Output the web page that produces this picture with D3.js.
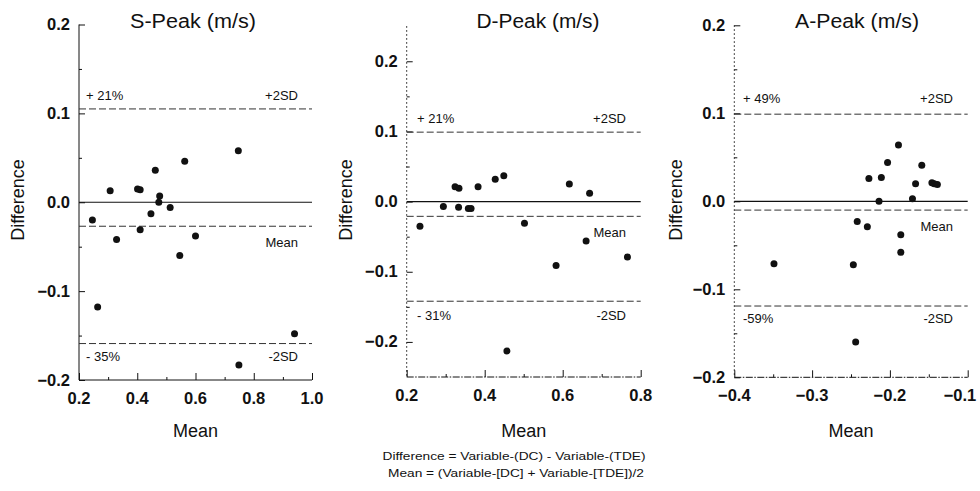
<!DOCTYPE html>
<html>
<head>
<meta charset="utf-8">
<script src="https://cdn.jsdelivr.net/npm/d3@7"></script>
<style>
  html, body { margin: 0; padding: 0; background: #fff; }
  svg { display: block; font-family: "Liberation Sans", Arial, Helvetica, sans-serif; }
</style>
</head>
<body>
<svg id="chart" width="980" height="491"></svg>
<script>
// ---------------- DATA ----------------
const panelTitles = ["S-Peak (m/s)", "D-Peak (m/s)", "A-Peak (m/s)"];

// S-Peak: mean (x) and difference (y)
const sPeakMean = [0.747, 0.563, 0.462, 0.401, 0.410, 0.307, 0.477, 0.474, 0.513, 0.447, 0.246, 0.410, 0.329, 0.600, 0.546, 0.264, 0.940, 0.749];
const sPeakDiff = [0.058, 0.046, 0.036, 0.015, 0.014, 0.013, 0.007, 0.000, -0.006, -0.013, -0.020, -0.031, -0.042, -0.038, -0.060, -0.118, -0.148, -0.183];
const sPeakLimits = { upper: 0.105, mean: -0.027, lower: -0.159 };
const sPeakPct = ["+ 21%", "- 35%"];

// D-Peak
const dPeakMean = [0.324, 0.334, 0.383, 0.427, 0.449, 0.617, 0.669, 0.294, 0.333, 0.358, 0.365, 0.234, 0.502, 0.660, 0.583, 0.766, 0.457];
const dPeakDiff = [0.021, 0.019, 0.021, 0.032, 0.037, 0.025, 0.012, -0.007, -0.008, -0.010, -0.010, -0.035, -0.031, -0.056, -0.091, -0.079, -0.213];
const dPeakLimits = { upper: 0.099, mean: -0.021, lower: -0.142 };
const dPeakPct = ["+ 21%", "- 31%"];

// A-Peak
const aPeakMean = [-0.189, -0.203, -0.159, -0.227, -0.211, -0.167, -0.146, -0.143, -0.139, -0.214, -0.171, -0.242, -0.229, -0.186, -0.186, -0.349, -0.247, -0.244];
const aPeakDiff = [0.064, 0.044, 0.041, 0.026, 0.027, 0.020, 0.021, 0.020, 0.019, 0.000, 0.003, -0.023, -0.029, -0.038, -0.058, -0.071, -0.072, -0.160];
const aPeakLimits = { upper: 0.099, mean: -0.010, lower: -0.119 };
const aPeakPct = ["+ 49%", "-59%"];

// Axis domains and tick values
const sXDomain = [0.2, 1.0], sYDomain = [-0.2, 0.2];
const dXDomain = [0.2, 0.8], dYDomain = [-0.25, 0.25];
const aXDomain = [-0.4, -0.1], aYDomain = [-0.2, 0.2];
const sXTicks = [0.2, 0.4, 0.6, 0.8, 1.0];
const dXTicks = [0.2, 0.4, 0.6, 0.8];
const aXTicks = [-0.4, -0.3, -0.2, -0.1];
const sYTicks = [-0.2, -0.1, 0.0, 0.1, 0.2];
const dYTicks = [-0.2, -0.1, 0.0, 0.1, 0.2];
const aYTicks = [-0.2, -0.1, 0.0, 0.1, 0.2];
const sXMinor = [0.3, 0.5, 0.7, 0.9];
const dXMinor = [0.3, 0.5, 0.7];
const aXMinor = [-0.35, -0.25, -0.15];
const sYMinor = [-0.15, -0.05, 0.05, 0.15];
const dYMinor = [-0.15, -0.05, 0.05, 0.15];
const aYMinor = [-0.15, -0.05, 0.05, 0.15];

const xAxisTitle = "Mean";
const yAxisTitle = "Difference";
const footnotes = ["Difference = Variable-(DC) - Variable-(TDE)", "Mean = (Variable-[DC] + Variable-[TDE])/2"];

// ---------------- LAYOUT ----------------
const panels = [
  { title: panelTitles[0], xs: sPeakMean, ys: sPeakDiff, lim: sPeakLimits, pct: sPeakPct,
    xDomain: sXDomain, yDomain: sYDomain, xTicks: sXTicks, yTicks: sYTicks, xMinor: sXMinor, yMinor: sYMinor,
    x0: 79, x1: 312, yTop: 24.5, yBot: 380, titleX: 193, titleW: 126, ylabX: 18, dotted: false,
    upLab: 100, meanLab: 247, lowLab: 361, leftLab: 86, rightLab: 298 },
  { title: panelTitles[1], xs: dPeakMean, ys: dPeakDiff, lim: dPeakLimits, pct: dPeakPct,
    xDomain: dXDomain, yDomain: dYDomain, xTicks: dXTicks, yTicks: dYTicks, xMinor: dXMinor, yMinor: dYMinor,
    x0: 406.7, x1: 640.7, yTop: 26.2, yBot: 377, titleX: 538, titleW: 123, ylabX: 346, dotted: true,
    upLab: 123, meanLab: 237, lowLab: 320, leftLab: 417, rightLab: 626 },
  { title: panelTitles[2], xs: aPeakMean, ys: aPeakDiff, lim: aPeakLimits, pct: aPeakPct,
    xDomain: aXDomain, yDomain: aYDomain, xTicks: aXTicks, yTicks: aYTicks, xMinor: aXMinor, yMinor: aYMinor,
    x0: 734.3, x1: 967.7, yTop: 25.3, yBot: 377.3, titleX: 857, titleW: 124, ylabX: 676, dotted: true,
    upLab: 103, meanLab: 231, lowLab: 323, leftLab: 743, rightLab: 953 }
];

const svg = d3.select("#chart");
const ink = "#111";

function fmtTick(v) {
  const s = d3.format(".1f")(Math.abs(v));
  return (v < 0 ? "\u2212" : "") + s;
}

panels.forEach(p => {
  const x = d3.scaleLinear().domain(p.xDomain).range([p.x0, p.x1]);
  const y = d3.scaleLinear().domain(p.yDomain).range([p.yBot, p.yTop]);
  const g = svg.append("g");

  // y axis
  const yAxis = d3.axisRight(y).tickValues(p.yTicks).tickSize(6).tickFormat("");
  const gy = g.append("g").attr("transform", `translate(${p.x0},0)`).call(yAxis);
  gy.select(".domain").attr("d", `M0,${p.yTop}V${p.yBot}`)
    .attr("stroke", ink).attr("stroke-width", 1)
    .attr("stroke-dasharray", p.dotted ? "1.5,2.5" : null);
  gy.selectAll(".tick line").attr("stroke", ink);
  const yMinorAxis = d3.axisRight(y).tickValues(p.yMinor).tickSize(3).tickFormat("");
  const gym = g.append("g").attr("transform", `translate(${p.x0},0)`).call(yMinorAxis);
  gym.select(".domain").remove();
  gym.selectAll(".tick line").attr("stroke", ink);

  // y tick labels
  g.append("g").selectAll("text").data(p.yTicks).join("text")
    .attr("x", p.x0 - 9).attr("y", d => y(d) + 5.5)
    .attr("text-anchor", "end")
    .attr("font-size", 16.5).attr("font-weight", "bold").attr("fill", ink)
    .text(fmtTick);

  // x axis
  const xAxis = d3.axisTop(x).tickValues(p.xTicks).tickSize(7).tickFormat("");
  const gx = g.append("g").attr("transform", `translate(0,${p.yBot})`).call(xAxis);
  gx.select(".domain").attr("d", `M${p.x0},0H${p.x1}`)
    .attr("stroke", ink).attr("stroke-width", 1)
    .attr("stroke-dasharray", p.dotted ? "7,1.5,1.5,1.5" : null);
  gx.selectAll(".tick line").attr("stroke", ink);
  const xMinorAxis = d3.axisTop(x).tickValues(p.xMinor).tickSize(3).tickFormat("");
  const gxm = g.append("g").attr("transform", `translate(0,${p.yBot})`).call(xMinorAxis);
  gxm.select(".domain").remove();
  gxm.selectAll(".tick line").attr("stroke", ink);

  // x tick labels (last label kept inside the window)
  const lastX = p.xTicks[p.xTicks.length - 1];
  g.append("g").selectAll("text").data(p.xTicks).join("text")
    .attr("x", d => Math.min(x(d), 977 - 17))
    .attr("y", p.yBot + 24)
    .attr("text-anchor", "middle")
    .attr("font-size", 16.5).attr("font-weight", "bold").attr("fill", ink)
    .text(fmtTick);

  // reference lines
  g.append("line").attr("x1", p.x0).attr("x2", p.x1)
    .attr("y1", y(0)).attr("y2", y(0))
    .attr("stroke", ink).attr("stroke-width", 1.2);
  [p.lim.upper, p.lim.mean, p.lim.lower].forEach(v => {
    g.append("line").attr("x1", p.x0).attr("x2", p.x1)
      .attr("y1", y(v)).attr("y2", y(v))
      .attr("stroke", "#333").attr("stroke-width", 1)
      .attr("stroke-dasharray", "7,3");
  });

  // annotations
  const ann = g.append("g").attr("font-size", 13).attr("fill", ink);
  ann.append("text").attr("x", p.leftLab).attr("y", p.upLab).text(p.pct[0]);
  ann.append("text").attr("x", p.rightLab).attr("y", p.upLab).attr("text-anchor", "end").text("+2SD");
  ann.append("text").attr("x", p.rightLab).attr("y", p.meanLab).attr("text-anchor", "end").text("Mean");
  ann.append("text").attr("x", p.leftLab).attr("y", p.lowLab).text(p.pct[1]);
  ann.append("text").attr("x", p.rightLab).attr("y", p.lowLab).attr("text-anchor", "end").text("-2SD");

  // points
  g.append("g").selectAll("circle").data(p.xs.map((v, i) => [v, p.ys[i]])).join("circle")
    .attr("cx", d => x(d[0])).attr("cy", d => y(d[1])).attr("r", 3.5).attr("fill", ink);

  // titles
  g.append("text").attr("x", p.titleX).attr("y", 28).attr("text-anchor", "middle")
    .attr("font-size", 20).attr("fill", ink)
    .attr("textLength", p.titleW).attr("lengthAdjust", "spacingAndGlyphs").text(p.title);
  g.append("text").attr("transform", `translate(${p.ylabX + 6},200) rotate(-90)`)
    .attr("text-anchor", "middle").attr("font-size", 18).attr("fill", ink).text(yAxisTitle);
  g.append("text").attr("x", (p.x0 + p.x1) / 2).attr("y", 437).attr("text-anchor", "middle")
    .attr("font-size", 18).attr("fill", ink).text(xAxisTitle);
});

// footnotes
svg.append("text").attr("x", 514).attr("y", 460).attr("text-anchor", "middle")
  .attr("font-size", 11.5).attr("fill", ink)
  .attr("textLength", 263).attr("lengthAdjust", "spacingAndGlyphs").text(footnotes[0]);
svg.append("text").attr("x", 516).attr("y", 477).attr("text-anchor", "middle")
  .attr("font-size", 11.5).attr("fill", ink)
  .attr("textLength", 256).attr("lengthAdjust", "spacingAndGlyphs").text(footnotes[1]);
</script>
</body>
</html>
